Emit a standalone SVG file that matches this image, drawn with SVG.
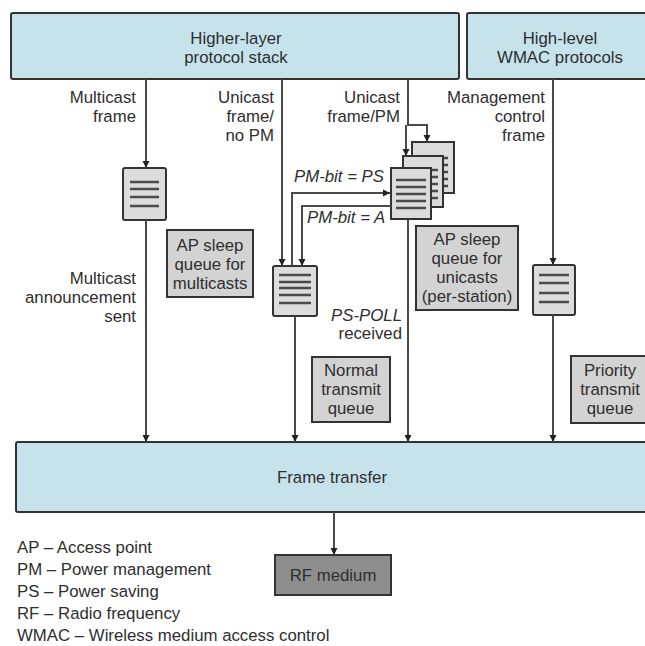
<svg xmlns="http://www.w3.org/2000/svg" width="645" height="646" viewBox="0 0 645 646">
<style>
text{font-family:"Liberation Sans",Arial,sans-serif;font-size:16.8px;fill:#2e2e2e}
.c{text-anchor:middle}
.r{text-anchor:end}
.i{font-style:italic}
.blue{fill:#c6e3ec;stroke:#333;stroke-width:2}
.lab{fill:#d3d3d3;stroke:#333;stroke-width:2}
.q{fill:#dcdcdc;stroke:#333;stroke-width:2}
.ql{stroke:#4a4a4a;stroke-width:2.4}
.ln{fill:none;stroke:#4a4a4a;stroke-width:2}
</style>
<defs>
<marker id="ah" markerWidth="8" markerHeight="8" refX="7" refY="4" orient="auto" markerUnits="userSpaceOnUse">
<path d="M0,0.5 L7,4 L0,7.5 Z" fill="#222"/>
</marker>
</defs>

<g id="higher-layer">
<rect class="blue" x="11" y="13" width="448" height="66" rx="2"/>
<text class="c" x="236" y="44">Higher-layer</text>
<text class="c" x="236" y="63">protocol stack</text>
</g>
<g id="wmac">
<rect class="blue" x="467" y="13" width="190" height="66" rx="2"/>
<text class="c" x="560" y="44">High-level</text>
<text class="c" x="560" y="63">WMAC protocols</text>
</g>

<g id="frame-transfer">
<rect class="blue" x="16" y="442" width="640" height="70" rx="2"/>
<text class="c" x="332" y="483">Frame transfer</text>
</g>

<g id="rf-medium">
<rect x="275" y="555" width="116" height="40" fill="#8e8e8e" stroke="#333" stroke-width="2"/>
<text class="c" x="333" y="581">RF medium</text>
</g>

<g id="multicast-queue">
<rect class="q" x="123" y="168" width="43" height="52" rx="2"/>
<path class="ql" d="M130,182H159M130,189H159M130,197H159M130,206H159"/>
</g>
<g id="normal-queue">
<rect class="q" x="273" y="266" width="44" height="50" rx="2"/>
<path class="ql" d="M279,275H311M279,282H311M279,288H311M279,295H311M279,303H311"/>
</g>
<g id="priority-queue">
<rect class="q" x="533" y="265" width="42" height="50" rx="2"/>
<path class="ql" d="M539,275H569M539,283H569M539,293H569M539,302H569"/>
</g>
<g id="unicast-queues">
<rect class="q" x="412" y="142" width="42" height="51"/>
<path class="ql" d="M418,158H448M418,165H448M418,172H448M418,179H448M418,186H448"/>
<rect class="q" x="403" y="156" width="40" height="51"/>
<path class="ql" d="M408,170H438M408,177H438M408,184H438M408,191H438M408,198H438"/>
<rect class="q" x="391" y="168" width="40" height="51"/>
<path class="ql" d="M396,180H426M396,187H426M396,194H426M396,201H426M396,208H426"/>
</g>

<g id="ap-sleep-multicast">
<rect class="lab" x="167" y="230" width="86" height="67"/>
<text class="c" x="210" y="251">AP sleep</text>
<text class="c" x="210" y="270">queue for</text>
<text class="c" x="210" y="289">multicasts</text>
</g>
<g id="ap-sleep-unicast">
<rect class="lab" x="416" y="226" width="102" height="84"/>
<text class="c" x="467" y="245">AP sleep</text>
<text class="c" x="467" y="264">queue for</text>
<text class="c" x="467" y="283">unicasts</text>
<text class="c" x="467" y="302">(per-station)</text>
</g>
<g id="normal-transmit">
<rect class="lab" x="312" y="357" width="78" height="65"/>
<text class="c" x="351" y="376">Normal</text>
<text class="c" x="351" y="395">transmit</text>
<text class="c" x="351" y="414">queue</text>
</g>
<g id="priority-transmit">
<rect class="lab" x="571" y="356" width="90" height="67"/>
<text class="c" x="610" y="376">Priority</text>
<text class="c" x="610" y="395">transmit</text>
<text class="c" x="610" y="414">queue</text>
</g>

<g id="connectors">
<path class="ln" d="M146,79V168" marker-end="url(#ah)"/>
<path class="ln" d="M146,220V442" marker-end="url(#ah)"/>
<path class="ln" d="M282,79V266" marker-end="url(#ah)"/>
<path class="ln" d="M292,266V193H390" marker-end="url(#ah)"/>
<path class="ln" d="M391,206H302V266" marker-end="url(#ah)"/>
<path class="ln" d="M295,316V442" marker-end="url(#ah)"/>
<path class="ln" d="M408,79V125H427V142" marker-end="url(#ah)"/>
<path class="ln" d="M406,125V156" marker-end="url(#ah)"/>
<path class="ln" d="M408,219V442" marker-end="url(#ah)"/>
<path class="ln" d="M553,79V265" marker-end="url(#ah)"/>
<path class="ln" d="M553,315V442" marker-end="url(#ah)"/>
<path class="ln" d="M334,512V555" marker-end="url(#ah)"/>
</g>

<g id="labels">
<text class="r" x="136" y="103">Multicast</text>
<text class="r" x="136" y="122">frame</text>
<text class="r" x="274" y="103">Unicast</text>
<text class="r" x="274" y="122">frame/</text>
<text class="r" x="274" y="141">no PM</text>
<text class="r" x="400" y="103">Unicast</text>
<text class="r" x="400" y="122">frame/PM</text>
<text class="r" x="545" y="103">Management</text>
<text class="r" x="545" y="122">control</text>
<text class="r" x="545" y="141">frame</text>
<text class="i" x="294" y="182">PM-bit = PS</text>
<text class="i" x="307" y="223">PM-bit = A</text>
<text class="r" x="136" y="284">Multicast</text>
<text class="r" x="136" y="303">announcement</text>
<text class="r" x="136" y="322">sent</text>
<text class="r i" x="402" y="321">PS-POLL</text>
<text class="r" x="402" y="339">received</text>
</g>

<g id="legend">
<text x="17" y="553">AP – Access point</text>
<text x="17" y="575">PM – Power management</text>
<text x="17" y="597">PS – Power saving</text>
<text x="17" y="619">RF – Radio frequency</text>
<text x="17" y="641">WMAC – Wireless medium access control</text>
</g>
</svg>
